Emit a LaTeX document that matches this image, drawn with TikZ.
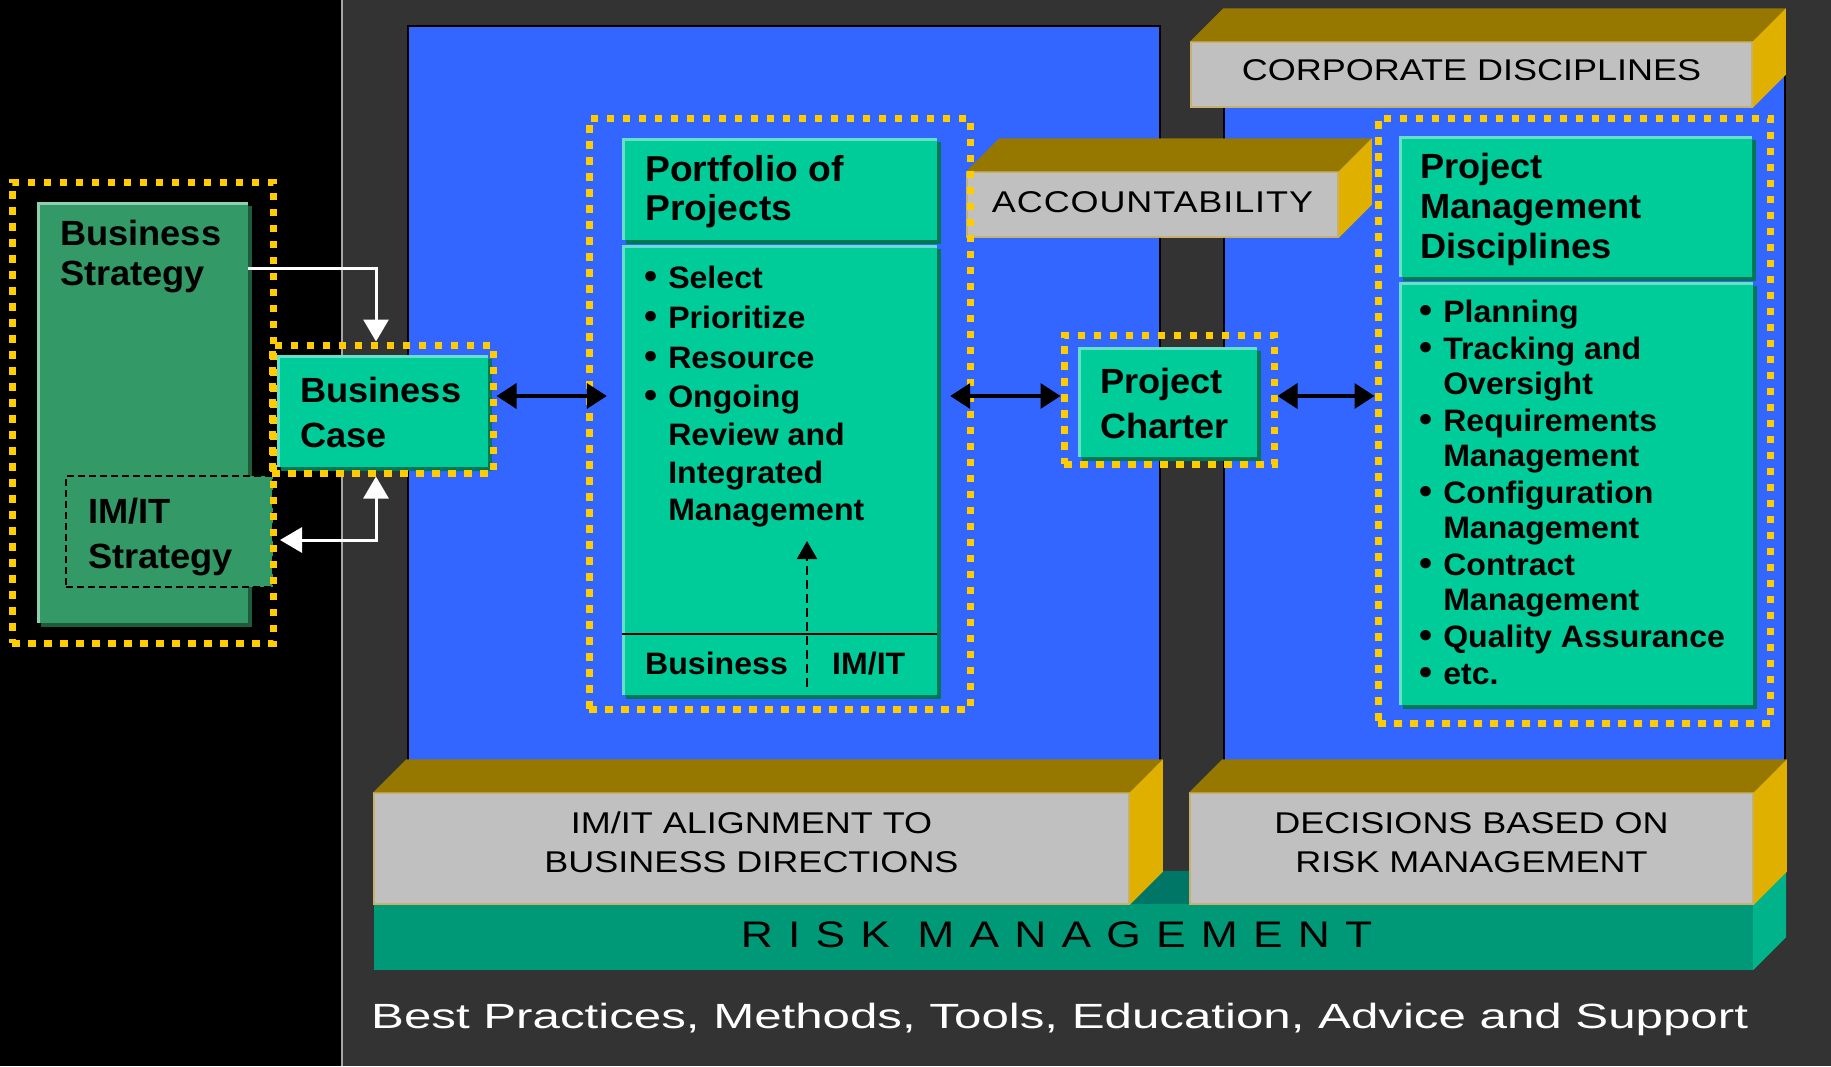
\documentclass[tikz,border=0pt]{standalone}
\usepackage{fontspec}
\setmainfont[FakeStretch=1.035]{Liberation Sans}
\newfontfamily\slabfont[FakeStretch=1.2]{Liberation Sans}
\newfontfamily\riskfont[FakeStretch=1.2,LetterSpace=41]{Liberation Sans}
\newfontfamily\footfont[FakeStretch=1.407]{Liberation Sans}
\usetikzlibrary{arrows.meta}

\definecolor{panelblue}{HTML}{3366FF}
\definecolor{darkbg}{HTML}{333333}
\definecolor{boxgreen}{HTML}{00CC99}
\definecolor{boxlight}{HTML}{66E0C8}
\definecolor{boxdark}{HTML}{007755}
\definecolor{stratgreen}{HTML}{339966}
\definecolor{stratlight}{HTML}{8FCFAF}
\definecolor{stratdark}{HTML}{1F5A3A}
\definecolor{dotyellow}{HTML}{FFCC00}
\definecolor{slabgray}{HTML}{C0C0C0}
\definecolor{slabtop}{HTML}{967800}
\definecolor{slabside}{HTML}{E0B000}
\definecolor{slabedge}{HTML}{C8B070}
\definecolor{riskfront}{HTML}{009977}
\definecolor{risktop}{HTML}{007766}
\definecolor{riskside}{HTML}{00B38A}

\newcommand\lines[1]{\begin{tabular}[t]{@{}l@{}}#1\end{tabular}}
\newcommand\clines[1]{\begin{tabular}[t]{@{}c@{}}#1\end{tabular}}
\newcommand\bulletlist[1]{\begin{tabular}[t]{@{}l@{\hspace{11pt}}l@{}}#1\end{tabular}}
\newcommand\bul{{\fontsize{36}{36}\selectfont\textbullet}}

% top and right faces of a block, from its front node
\newcommand\slabfaces[3]{%
  \fill[#2] (#1.north west) -- (#1.north east) -- ++(33pt,33pt)
    -- ([shift={(33pt,33pt)}]#1.north west) -- cycle;
  \fill[#3] (#1.north east) -- ++(33pt,33pt)
    -- ([shift={(33pt,33pt)}]#1.south east) -- (#1.south east) -- cycle;
}

\tikzset{
  gbox/.style={fill=boxgreen, inner sep=0pt,
    preaction={fill=boxdark, transform canvas={shift={(4pt,-4pt)}}},
    path picture={\draw[boxlight, line width=6pt]
      (path picture bounding box.south west) -- (path picture bounding box.north west)
      -- (path picture bounding box.north east);}},
  sbox/.style={fill=stratgreen, inner sep=0pt,
    preaction={fill=stratdark, transform canvas={shift={(4pt,-4pt)}}},
    path picture={\draw[stratlight, line width=6pt]
      (path picture bounding box.south west) -- (path picture bounding box.north west)
      -- (path picture bounding box.north east);}},
  dotframe/.style={draw=dotyellow, line width=7pt, dash pattern=on 7.5pt off 8.5pt, inner sep=0pt},
  slab/.style={fill=slabgray, draw=slabedge, line width=1.5pt, inner sep=0pt},
  boxtext/.style={anchor=base west, inner sep=0pt, font=\fontsize{35}{40}\selectfont\bfseries},
  listtext/.style={anchor=base west, inner sep=0pt, font=\fontsize{31}{38}\selectfont\bfseries},
  slabtext/.style={anchor=base, inner sep=0pt, font=\slabfont\fontsize{30}{39}\selectfont},
  barrow/.style={line width=3.5pt, {Triangle[length=20pt,width=25pt]}-{Triangle[length=20pt,width=25pt]}},
  warrow/.style={draw=white, line width=3pt, -{Triangle[length=22pt,width=25pt]}},
}

\begin{document}
\begin{tikzpicture}[x=1pt,y=-1pt]
  \useasboundingbox (0,0) rectangle (1831,1066);

  \fill[black] (0,0) rectangle (342,1066);
  \fill[darkbg] (342,0) rectangle (1831,1066);
  \draw[gray!70, line width=2pt] (342,0) -- (342,1066); % divider

  % blue panels
  \filldraw[fill=panelblue, draw=black, line width=1.5pt] (408,26) rectangle (1160,770);
  \filldraw[fill=panelblue, draw=black, line width=1.5pt] (1224,50) rectangle (1785,770);

  % blocks along the bottom
  \node[fill=riskfront, inner sep=0pt, minimum width=1379pt, minimum height=66pt] (risk) at (1063.5,937) {};
  \slabfaces{risk}{risktop}{riskside}
  \node[slab, minimum width=755pt, minimum height=111pt] (align) at (751.5,848.5) {};
  \slabfaces{align}{slabtop}{slabside}
  \node[slab, minimum width=563pt, minimum height=111pt] (decide) at (1471.5,848.5) {};
  \slabfaces{decide}{slabtop}{slabside}

  % blocks at the top
  \node[slab, minimum width=561pt, minimum height=65pt] (corp) at (1471.5,74.5) {};
  \slabfaces{corp}{slabtop}{slabside}
  \node[slab, minimum width=371pt, minimum height=65pt] (account) at (1152.5,204.5) {};
  \slabfaces{account}{slabtop}{slabside}

  \node[slabtext] (corptxt) at (1471.5,80) {CORPORATE DISCIPLINES};
  \node[slabtext, font=\slabfont\fontsize{30}{39}\selectfont\addfontfeature{LetterSpace=3}] (accounttxt) at (1152.5,212) {ACCOUNTABILITY};
  \node[slabtext] (aligntxt) at (751.5,833) {\clines{IM/IT ALIGNMENT TO\\BUSINESS DIRECTIONS}};
  \node[slabtext] (decidetxt) at (1471.5,833) {\clines{DECISIONS BASED ON\\RISK MANAGEMENT}};
  \node[anchor=base, inner sep=0pt, font=\riskfont\fontsize{37}{40}\selectfont] (risktxt) at (1056.5,947) {RISK MANAGEMENT};
  \node[anchor=base west, inner sep=0pt, text=white, font=\footfont\fontsize{35}{40}\selectfont] (support) at (371,1028)
    {Best Practices, Methods, Tools, Education, Advice and Support};

  % strategy
  \node[sbox, minimum width=211pt, minimum height=421pt] (strat) at (142.5,412.5) {};
  \node[fill=stratgreen, draw=black, line width=1.5pt, dash pattern=on 7pt off 4pt, inner sep=0pt,
    minimum width=207pt, minimum height=111pt] (imit) at (169.5,531.5) {};
  \node[dotframe, minimum width=261pt, minimum height=461pt] (stratfr) at (142.5,412.5) {};
  \node[boxtext] (strattxt) at (60,245) {\lines{Business\\Strategy}};
  \node[boxtext, font=\fontsize{35}{45}\selectfont\bfseries] (imittxt) at (88,523) {\lines{IM/IT\\Strategy}};

  % business case
  \node[gbox, minimum width=211pt, minimum height=112pt] (bcase) at (382.5,411) {};
  \node[dotframe, minimum width=221pt, minimum height=128pt] (bcasefr) at (382.5,409) {};
  \node[boxtext, font=\fontsize{35}{45}\selectfont\bfseries] (bcasetxt) at (300,402) {\lines{Business\\Case}};

  % portfolio
  \node[gbox, minimum width=315pt, minimum height=102pt] (pftitle) at (779.5,189) {};
  \node[gbox, minimum width=315pt, minimum height=450pt] (pfbody) at (779.5,470) {};
  \node[dotframe, minimum width=381pt, minimum height=591pt] (pffr) at (779.5,413.5) {};
  \node[boxtext, font=\fontsize{36}{39}\selectfont\bfseries] (pftitletxt) at (645,181) {\lines{Portfolio of\\Projects}};
  \node[listtext] (pflist) at (644,288) {\bulletlist{%
    \bul & Select\\[2pt] \bul & Prioritize\\[2pt] \bul & Resource\\[1pt]
    \bul & Ongoing\\ & Review and\\ & Integrated\\[-1pt] & Management}};
  \coordinate (divider) at (0,634);
  \draw[line width=2pt] (pfbody.west |- divider) -- (pfbody.east |- divider);
  \node[listtext] (pfbiz) at (645,674) {Business};
  \node[listtext] (pfimit) at (832,674) {IM/IT};
  \coordinate (dashfoot) at (807,687);
  \coordinate (dashhead) at (807,541);
  \draw[line width=2pt, dash pattern=on 9pt off 5pt, -{Triangle[length=18pt,width=20pt]}] (dashfoot) -- (dashhead);

  % charter
  \node[gbox, minimum width=179pt, minimum height=110pt] (charter) at (1167.5,402) {};
  \node[dotframe, minimum width=210pt, minimum height=129pt] (charterfr) at (1169,399.5) {};
  \node[boxtext, font=\fontsize{35}{45}\selectfont\bfseries] (chartertxt) at (1100,393) {\lines{Project\\Charter}};

  % project management disciplines
  \node[gbox, minimum width=353pt, minimum height=141pt] (pmtitle) at (1575.5,206.5) {};
  \node[gbox, minimum width=354pt, minimum height=423pt] (pmbody) at (1576,493.5) {};
  \node[dotframe, minimum width=392pt, minimum height=605pt] (pmfr) at (1574,420.5) {};
  \node[boxtext] (pmtitletxt) at (1420,178) {\lines{Project\\Management\\Disciplines}};
  \node[listtext, font=\fontsize{31}{34.5}\selectfont\bfseries] (pmlist) at (1419,322) {\bulletlist{%
    \bul & Planning\\[3pt] \bul & Tracking and\\ & Oversight\\[3pt]
    \bul & Requirements\\ & Management\\[3pt] \bul & Configuration\\ & Management\\[3pt]
    \bul & Contract\\ & Management\\[3pt] \bul & Quality Assurance\\[2pt] \bul & etc.}};

  % connectors
  \coordinate (upper) at (0,268);
  \coordinate (row) at (0,396);
  \coordinate (lower) at (0,540);
  \draw[warrow] (strat.east |- upper) -| ([xshift=-6.5pt]bcasefr.north);
  \draw[warrow, {Triangle[length=22pt,width=25pt]}-{Triangle[length=22pt,width=25pt]}, shorten >=3.5pt]
    ([xshift=-6.5pt]bcasefr.south) |- (stratfr.east |- lower);
  \draw[barrow, shorten >=15pt] (bcasefr.east |- row) -- (pfbody.west |- row);
  \draw[barrow, shorten <=13pt] (pfbody.east |- row) -- (charterfr.west |- row);
  \draw[barrow] (charterfr.east |- row) -- (pmfr.west |- row);
\end{tikzpicture}
\end{document}
